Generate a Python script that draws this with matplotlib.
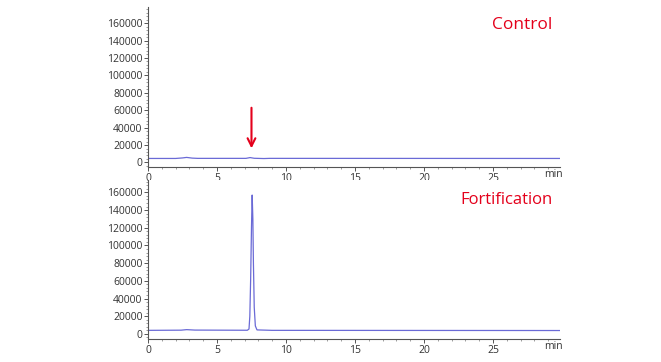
import matplotlib
matplotlib.use('Agg')
import matplotlib.pyplot as plt
from matplotlib.ticker import MultipleLocator

# control run (retention time in min, signal)
ctrl_t = [0, 2.0, 2.5, 2.8, 3.2, 3.6, 7.1, 7.4, 7.7, 8.4, 8.8, 29.86]
ctrl_y = [4600, 4600, 5200, 5800, 5000, 4700, 4700, 5600, 4800, 4500, 4700, 4600]

# fortified sample
fort_t = [0, 2.4, 2.8, 3.4, 7.2, 7.32, 7.38, 7.44, 7.5, 7.55, 7.6, 7.64, 7.7, 7.78, 7.9, 9.0, 29.86]
fort_y = [4000, 4200, 4800, 4300, 4100, 5500, 20000, 62000, 120000, 157000, 130000, 80000, 30000, 9000, 4500, 4000, 3800]

yticks = [0, 20000, 40000, 60000, 80000, 100000, 120000, 140000, 160000]
xticks = [0, 5, 10, 15, 20, 25]
line_col = '#6a6ad6'
red = '#e4001b'

plt.rcParams['font.family'] = ['Open Sans', 'DejaVu Sans']

fig = plt.figure(figsize=(6.61, 3.62), dpi=100)
ax1 = fig.add_axes([0.2239, 0.5387, 0.6233, 0.442])
ax2 = fig.add_axes([0.2239, 0.0635, 0.6233, 0.4392])

for ax, t, y, ylim, label, lx, ly, fs in [(ax1, ctrl_t, ctrl_y, (-5200, 178500), 'Control', 0.908, 0.8875, 12.5),
                                          (ax2, fort_t, fort_y, (-5800, 174000), 'Fortification', 0.869, 0.874, 12)]:
    ax.plot(t, y, color=line_col, lw=0.9)
    ax.set_xlim(0, 29.86)
    ax.set_ylim(*ylim)
    ax.set_xticks(xticks)
    ax.set_yticks(yticks)
    ax.xaxis.set_minor_locator(MultipleLocator(1))
    ax.yaxis.set_minor_locator(MultipleLocator(4000))
    for s in ['top', 'right']:
        ax.spines[s].set_visible(False)
    for s in ['left', 'bottom']:
        ax.spines[s].set_color('#555555')
        ax.spines[s].set_linewidth(0.8)
    ax.tick_params(which='major', length=3, width=0.7, color='#555555', labelsize=7.5, labelcolor='#333333', pad=1)
    ax.tick_params(which='minor', length=1.5, width=0.5, color='#777777')
    ax.text(29.35, -0.015, 'min', transform=ax.get_xaxis_transform(), ha='center', va='top',
            fontsize=7.5, color='#333333')
    ax.text(lx, ly, label, transform=ax.transAxes, ha='center', va='center',
            fontsize=fs, color=red)

ax1.annotate('', xy=(7.5, 13000), xytext=(7.5, 66000),
             arrowprops=dict(arrowstyle='->', color=red, lw=1.5, mutation_scale=14))

fig.savefig('out.png', dpi=100)
